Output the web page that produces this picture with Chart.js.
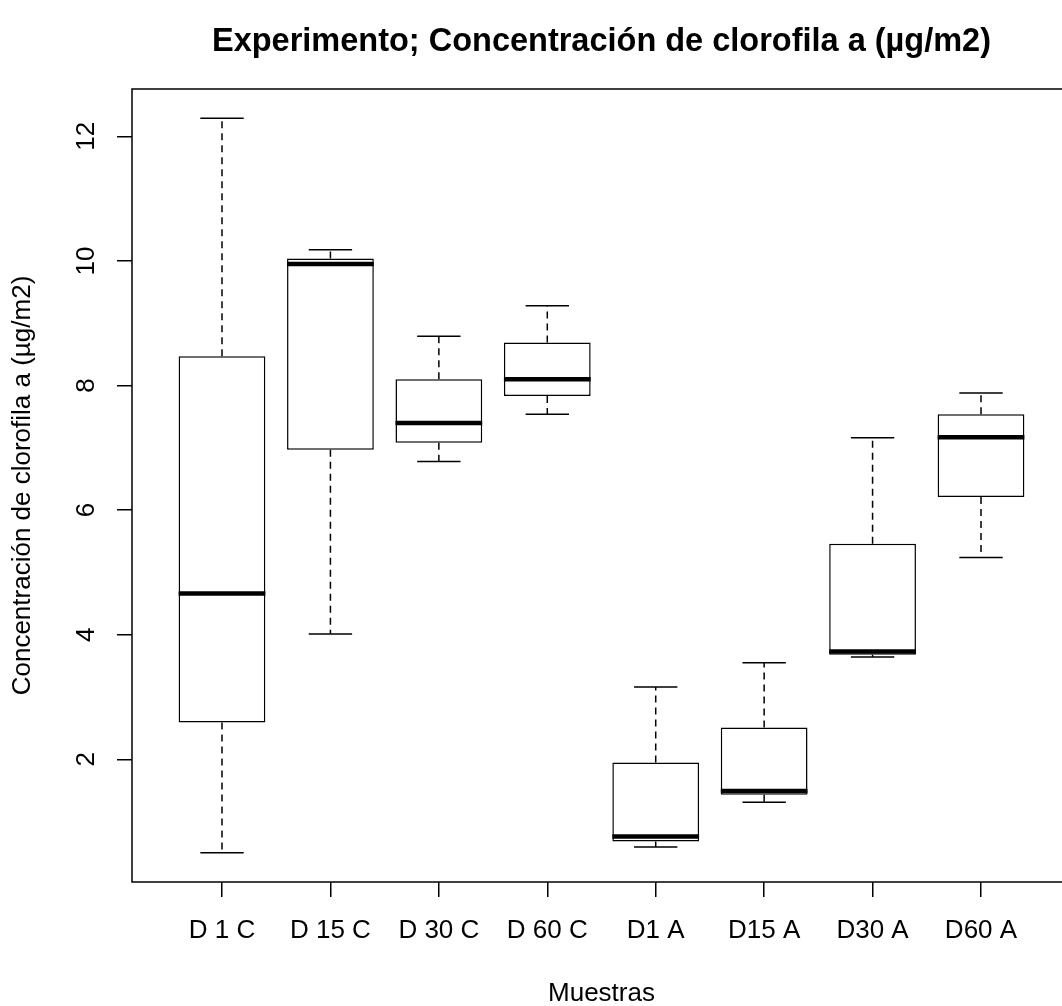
<!DOCTYPE html>
<html><head><meta charset="utf-8">
<script src="https://cdn.jsdelivr.net/npm/chart.js@4.4.0/dist/chart.umd.min.js"></script>
<style>html,body{margin:0;padding:0;background:#fff;overflow:hidden}#wrap{width:1062px;height:1006px;overflow:hidden;position:relative;background:#fff}canvas{display:block}</style>
</head><body><div id="wrap"><canvas id="c" width="1072" height="1006" style="width:1072px;height:1006px"></canvas></div>
<script>
const categories = ['D 1 C', 'D 15 C', 'D 30 C', 'D 60 C', 'D1 A', 'D15 A', 'D30 A', 'D60 A'];
const positions = [1, 2, 3, 4, 5, 6, 7, 8];
const whiskerLow  = [0.50, 4.01, 6.78, 7.54, 0.59, 1.31, 3.64, 5.24];
const q1          = [2.59, 6.97, 7.08, 7.83, 0.68, 1.43, 3.68, 6.21];
const median      = [4.66, 9.95, 7.40, 8.10, 0.76, 1.49, 3.73, 7.17];
const q3          = [8.47, 10.04, 8.10, 8.69, 1.95, 2.51, 5.46, 7.54];
const whiskerHigh = [12.29, 10.18, 8.79, 9.28, 3.16, 3.55, 7.16, 7.88];
const yTickValues = [2, 4, 6, 8, 10, 12];
const titleText = 'Experimento; Concentración de clorofila a (µg/m2)';
const xAxisTitle = 'Muestras';
const yAxisTitle = 'Concentración de clorofila a (µg/m2)';

const FONT = "'Liberation Sans', Arial, sans-serif";

const boxplotPlugin = {
  id: 'rbox',
  afterDatasetsDraw(chart) {
    const ctx = chart.ctx;
    const xs = chart.scales.x, ys = chart.scales.y;
    const meta = chart.getDatasetMeta(0);
    ctx.save();
    ctx.strokeStyle = '#000';
    positions.forEach((p, i) => {
      const x = xs.getPixelForValue(p);
      const half = meta.data[i].width / 2;
      const capHalf = half / 2;
      const yQ1 = ys.getPixelForValue(q1[i]);
      const yQ3 = ys.getPixelForValue(q3[i]);
      const yLo = ys.getPixelForValue(whiskerLow[i]);
      const yHi = ys.getPixelForValue(whiskerHigh[i]);
      const yMed = ys.getPixelForValue(median[i]);
      ctx.setLineDash([7, 5]);
      ctx.lineWidth = 1.5;
      ctx.beginPath();
      ctx.moveTo(x, yQ3); ctx.lineTo(x, yHi);
      ctx.moveTo(x, yQ1); ctx.lineTo(x, yLo);
      ctx.stroke();
      ctx.setLineDash([]);
      ctx.beginPath();
      ctx.moveTo(x - capHalf, yHi); ctx.lineTo(x + capHalf, yHi);
      ctx.moveTo(x - capHalf, yLo); ctx.lineTo(x + capHalf, yLo);
      ctx.stroke();
      ctx.lineWidth = 4.5;
      ctx.beginPath();
      ctx.moveTo(x - half, yMed); ctx.lineTo(x + half, yMed);
      ctx.stroke();
    });
    const a = chart.chartArea;
    ctx.lineWidth = 1.5;
    ctx.strokeRect(a.left, a.top, a.right - a.left, a.bottom - a.top);
    ctx.restore();
  }
};

const tickFont = { family: FONT, size: 26 };

new Chart(document.getElementById('c'), {
  type: 'bar',
  data: {
    datasets: [{
      data: positions.map((p, i) => ({ x: p, y: [q1[i], q3[i]] })),
      backgroundColor: '#ffffff',
      borderColor: '#000000',
      borderWidth: 1.5,
      borderSkipped: false,
      barPercentage: 0.8,
      categoryPercentage: 1,
      grouped: false
    }]
  },
  options: {
    responsive: false,
    animation: false,
    devicePixelRatio: 1,
    layout: { padding: { left: 0, right: 1, top: 0, bottom: 0 } },
    plugins: {
      legend: { display: false },
      tooltip: { enabled: false },
      title: {
        display: true, text: titleText, fullSize: false,
        font: { family: FONT, size: 32.5, weight: 'bold' }, color: '#000',
        padding: { top: 22.5, bottom: 27.5 }
      }
    },
    scales: {
      x: {
        type: 'linear', min: 0.17, max: 8.83, offset: false,
        afterBuildTicks: s => { s.ticks = positions.map(v => ({ value: v })); },
        ticks: {
          callback: (v, idx) => categories[idx],
          font: tickFont, color: '#000', padding: 18, autoSkip: false, maxRotation: 0, minRotation: 0
        },
        grid: { display: true, offset: false, drawOnChartArea: false, drawTicks: true, tickLength: 15, color: '#000', lineWidth: 1.5 },
        border: { display: false },
        title: { display: true, text: xAxisTitle, font: tickFont, color: '#000', padding: { top: 0, bottom: -3 } },
        afterFit: s => { s.height = 124; }
      },
      y: {
        type: 'linear', min: 0.03, max: 12.76,
        afterBuildTicks: s => { s.ticks = yTickValues.map(v => ({ value: v })); },
        ticks: {
          callback: v => String(v),
          font: tickFont, color: '#000', padding: 16, minRotation: 90, maxRotation: 90, crossAlign: 'center'
        },
        grid: { display: true, drawOnChartArea: false, drawTicks: true, tickLength: 15, color: '#000', lineWidth: 1.5 },
        border: { display: false },
        title: { display: true, text: yAxisTitle, font: tickFont, color: '#000', padding: { top: 7, bottom: 0 } },
        afterFit: s => { s.width = 132; }
      }
    }
  },
  plugins: [boxplotPlugin]
});
</script>
</body></html>
